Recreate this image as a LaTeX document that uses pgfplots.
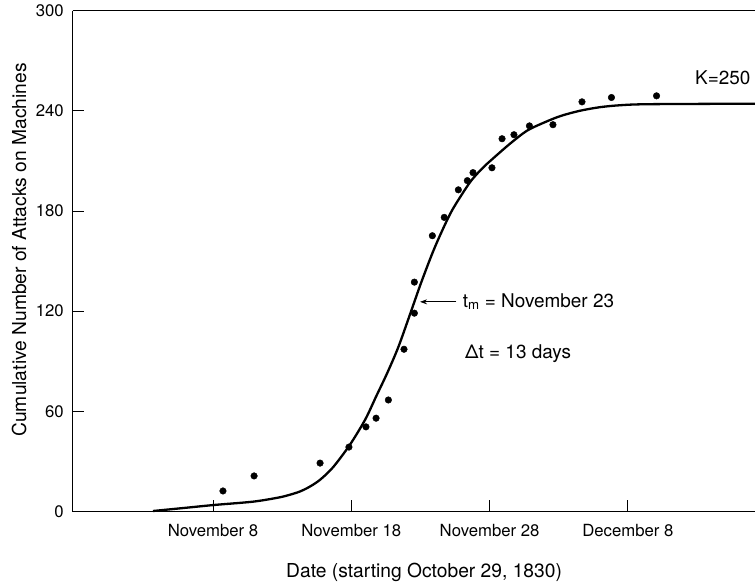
\documentclass[border=0pt]{standalone}
\usepackage{pgfplots}
\pgfplotsset{compat=1.18}
\usepackage{fontspec}
\setmainfont{TeX Gyre Heros}
\usetikzlibrary{arrows.meta}

\begin{document}
\begin{tikzpicture}
\useasboundingbox (-72.7bp,-74.5bp) rectangle (682.3bp,511.5bp);
\begin{axis}[
  scale only axis, width=682.3bp, height=500.8bp,
  xmin=-0.145, xmax=49.19, ymin=0, ymax=300,
  axis x line*=box, axis y line*=left,
  xtick={10,20,30,40},
  xticklabels={November 8, November 18, November 28, December 8},
  ytick={0,60,...,300},
  xtick pos=left, ytick pos=left,
  tick align=inside, major tick length=11bp,
  axis line style={line width=1.1bp},
  tick style={black, line width=1bp},
  ticklabel style={font=\fontsize{16.8}{19}\selectfont},
  xticklabel style={yshift=-9bp},
  yticklabel style={xshift=-5.5bp},
  /pgf/number format/assume math mode=true,
  clip=false,
]
\addplot[no marks, black, line width=2.3bp, smooth, tension=0.5] coordinates {
(5.66,0.3) (8,2.2) (10.07,3.9) (12.9,5.9) (14.7,8.3) (15.5,9.9) (16.29,12.0)
(17.0,14.9) (17.74,19.0)
(18.68,26.5) (19.9,40) (21.0,55) (21.8,69) (22.6,83) (23.4,98.5) (24.24,118)
(25.09,138) (26.05,158.5) (27.13,178) (28.0,190) (28.7,198.5) (29.5,205.8)
(30.25,211.5) (31.5,220.5) (32.68,228) (33.8,232.5) (35.09,236.8) (36.5,240)
(37.98,242.2) (39.5,243.4) (41.6,244) (49.19,244.3)
};
\addplot[only marks, black, mark=*, mark size=3.3bp] coordinates {
(10.72,12.3) (12.97,21.3) (17.74,29.0) (19.83,38.6) (21.06,50.7) (21.79,55.9)
(22.68,66.8) (23.81,97.2) (24.56,118.8) (24.56,137.4) (25.86,165.2) (26.72,176.2)
(27.74,192.7) (28.39,198.2) (28.8,203) (30.17,205.9) (30.9,223.3) (31.76,225.7)
(32.88,231) (34.58,231.7) (36.68,245.4) (38.81,248) (42.07,249)
};
\draw[-{Stealth[length=7bp,width=5bp]}, line width=1bp] (axis cs:27.6,125.6) -- (axis cs:24.97,125.6);
\node[anchor=base west, inner sep=0pt, font=\fontsize{19}{22}\selectfont] at (axis cs:28.05,122.4) {t\textsubscript{m} = November 23};
\node[anchor=base west, inner sep=0pt, font=\fontsize{19}{22}\selectfont] at (axis cs:28.22,91.8) {Δt = 13 days};
\node[anchor=base west, inner sep=0pt, font=\fontsize{19}{22}\selectfont] at (axis cs:44.85,255.5) {K=250};
\node[anchor=base, inner sep=0pt, font=\fontsize{19.3}{22}\selectfont, yshift=-65.5bp] at (axis cs:25.26,0) {Date (starting October 29, 1830)};
\node[anchor=base, rotate=90, inner sep=0pt, font=\fontsize{19.3}{22}\selectfont] at (axis cs:-3.52,156.7) {Cumulative Number of Attacks on Machines};
\end{axis}
\end{tikzpicture}
\end{document}
